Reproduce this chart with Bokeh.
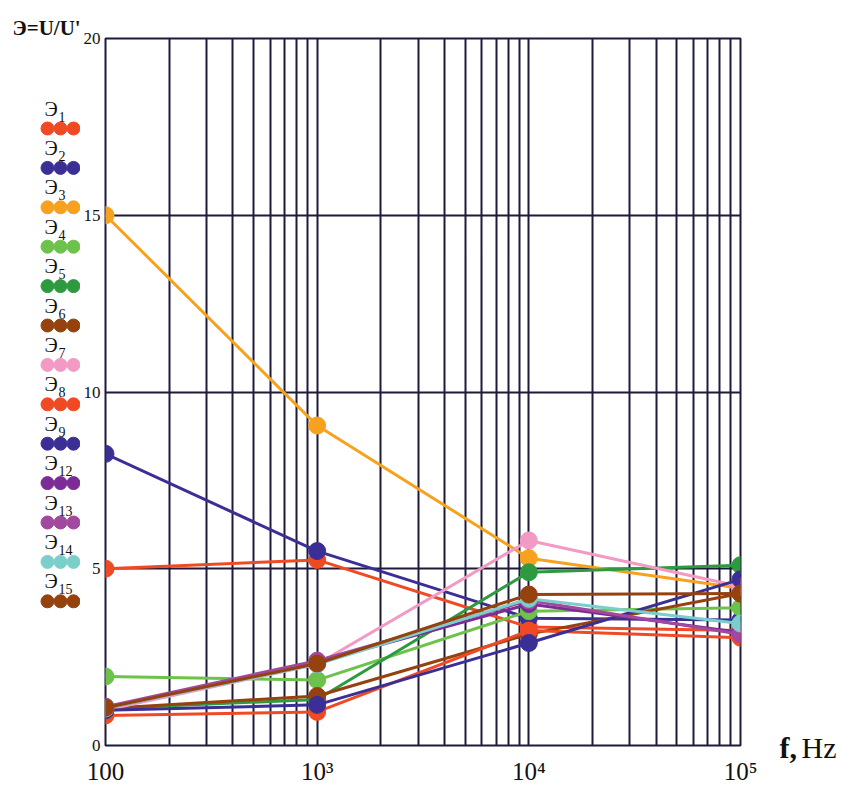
from bokeh.plotting import figure
from bokeh.layouts import row, column
from bokeh.models import FixedTicker
from bokeh.core.properties import value
from bokeh.embed import file_html
from bokeh.resources import INLINE

# ---- data ----
freqs = [100, 1000, 10000, 100000]
tick_labels = {100: "100", 1000: "10³", 10000: "10⁴", 100000: "10⁵"}
y_ticks = [0, 5, 10, 15, 20]

names = ["1", "2", "3", "4", "5", "6", "7", "8", "9", "12", "13", "14", "15"]
colors = ["#F04A25", "#3B2F96", "#F7A21F", "#6CC24A", "#2E9A40", "#95420F",
          "#F29AC4", "#F04A25", "#3B2F96", "#7B2C95", "#A3489F", "#7ACFCB", "#95420F"]

e1 = [5.0, 5.25, 3.35, 3.25]
e2 = [8.25, 5.5, 3.6, 3.55]
e3 = [15.0, 9.05, 5.3, 4.45]
e4 = [1.95, 1.85, 3.8, 3.9]
e5 = [1.05, 1.3, 4.9, 5.1]
e6 = [1.05, 1.4, 3.15, 4.3]
e7 = [1.0, 2.3, 5.8, 4.5]
e8 = [0.85, 0.95, 3.25, 3.05]
e9 = [1.0, 1.15, 2.9, 4.7]
e12 = [1.05, 2.35, 4.0, 3.2]
e13 = [1.1, 2.4, 4.1, 3.15]
e14 = [1.05, 2.3, 4.15, 3.45]
e15 = [1.07, 2.32, 4.27, 4.3]
series = [e1, e2, e3, e4, e5, e6, e7, e8, e9, e12, e13, e14, e15]

GRID = "#1E1B3A"
TXT = "#111111"
SERIF = "Liberation Serif"
H = 787
LW = 80          # legend panel width
BL, FW, BR = 24, 636, 26   # main figure borders / frame width
MW = BL + FW + BR
RW = 842 - LW - MW


def blank(width, x0, x1):
    f = figure(width=width, height=H, x_range=(x0, x1), y_range=(H, 0),
               output_backend="svg", toolbar_location=None, title=None,
               min_border=0)
    f.axis.visible = False
    f.grid.visible = False
    f.outline_line_color = None
    f.background_fill_color = "white"
    f.border_fill_color = "white"
    return f


# ---- legend panel ----
leg = blank(LW, 0, LW)
lx, ly, lc, tx, ty, tt, sx, sy, st = [], [], [], [], [], [], [], [], []
for i, (n, c) in enumerate(zip(names, colors)):
    my = 128 + i * 39.4
    for cx in (47, 60, 73):
        lx.append(cx); ly.append(my); lc.append(c)
    tx.append(44); ty.append(my - 20); tt.append("Э")
    sx.append(58); sy.append(my - 12); st.append(n)
leg.scatter(lx, ly, size=13, fill_color=lc, line_color=lc)
leg.text(tx, ty, text=tt, text_font=value(SERIF), text_font_size="20px",
         text_baseline="alphabetic", text_align="left", text_color=TXT)
leg.text(sx, sy, text=st, text_font=value(SERIF), text_font_size="14px",
         text_baseline="alphabetic", text_align="left", text_color=TXT)
leg.text([12], [27], text=["Э=U/U'"], text_font=value(SERIF), text_font_size="21px",
         text_font_style="bold", text_baseline="middle", text_align="left",
         text_color=TXT)

# ---- main chart ----
p = figure(width=MW, height=H, x_axis_type="log", x_range=(100, 100000),
           y_range=(0, 20), output_backend="svg", toolbar_location=None,
           title=None, min_border_left=BL, min_border_right=BR,
           min_border_top=38, min_border_bottom=42)
p.background_fill_color = "white"
p.border_fill_color = "white"
p.outline_line_color = GRID
p.outline_line_width = 2

minor = [m * 10 ** k for k in (2, 3, 4) for m in range(2, 10)]
xt = FixedTicker(ticks=freqs, minor_ticks=minor)
p.xaxis.ticker = xt
p.xgrid.ticker = xt
p.xaxis.major_label_overrides = tick_labels
yt = FixedTicker(ticks=y_ticks)
p.yaxis.ticker = yt
p.ygrid.ticker = yt

for ax in (p.xaxis[0], p.yaxis[0]):
    ax.axis_line_color = None
    ax.major_tick_line_color = None
    ax.minor_tick_line_color = None
    ax.major_tick_out = 0
    ax.major_tick_in = 0
    ax.minor_tick_out = 0
    ax.minor_tick_in = 0
    ax.major_label_text_font = SERIF
    ax.major_label_text_color = TXT

p.xaxis.major_label_text_font_size = "25px"
p.xaxis.major_label_standoff = 12
p.yaxis.major_label_text_font_size = "17px"
p.yaxis.major_label_standoff = 5
p.yaxis.major_label_text_baseline = "bottom"

p.xgrid.grid_line_color = GRID
p.xgrid.grid_line_width = 2
p.xgrid.minor_grid_line_color = GRID
p.xgrid.minor_grid_line_width = 2
p.ygrid.grid_line_color = GRID
p.ygrid.grid_line_width = 2

for vals, c in zip(series, colors):
    p.line(freqs, vals, line_color=c, line_width=3)
    p.scatter(freqs, vals, size=17, fill_color=c, line_color=c)

# ---- right panel with axis title ----
x0 = LW + MW
rp = blank(RW, x0, 842)
rp.text([779], [747], text=["f,"], text_font=value(SERIF), text_font_size="30px",
        text_font_style="bold", text_baseline="alphabetic", text_align="left",
        text_color=TXT)
rp.text([801], [747], text=["Hz"], text_font=value(SERIF), text_font_size="30px",
        text_baseline="alphabetic", text_align="left", text_color=TXT)

layout = row(column(leg), p, column(rp))
open("out.html", "w").write(file_html(layout, INLINE))
